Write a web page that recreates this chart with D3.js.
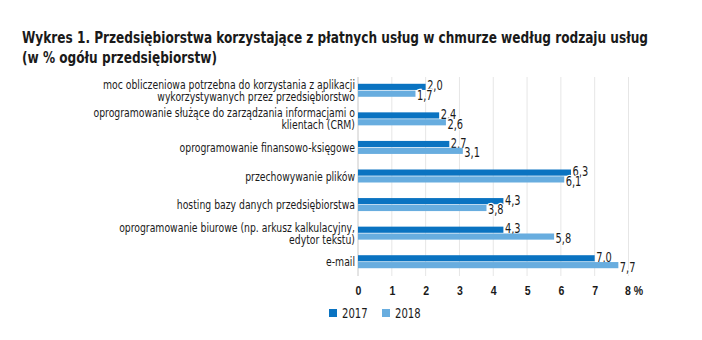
<!DOCTYPE html>
<html><head><meta charset="utf-8">
<script src="https://cdn.jsdelivr.net/npm/d3@7"></script>
<style>
body{margin:0;background:#fff;}
svg{display:block;font-family:"Liberation Sans Narrow","DejaVu Sans Condensed","DejaVu Sans",sans-serif;}
</style></head><body>
<svg id="c" width="702" height="340"></svg>
<script>
const categories = [
  ["moc obliczeniowa potrzebna do korzystania z aplikacji","wykorzystywanych przez przedsiębiorstwo"],
  ["oprogramowanie służące do zarządzania informacjami o","klientach (CRM)"],
  ["oprogramowanie finansowo-księgowe"],
  ["przechowywanie plików"],
  ["hosting bazy danych przedsiębiorstwa"],
  ["oprogramowanie biurowe (np. arkusz kalkulacyjny,","edytor tekstu)"],
  ["e-mail"]
];
const values2017 = [2.0, 2.4, 2.7, 6.3, 4.3, 4.3, 7.0];
const values2018 = [1.7, 2.6, 3.1, 6.1, 3.8, 5.8, 7.7];
const seriesNames = ["2017","2018"];
const colors = ["#0a73c1","#68addf"];
const xTicks = [0,1,2,3,4,5,6,7,8];
const title = ["Wykres 1. Przedsiębiorstwa korzystające z płatnych usług w chmurze według rodzaju usług","(w % ogółu przedsiębiorstw)"];

const svg = d3.select("#c");
const fmt = v => d3.format(".1f")(v).replace(".", ",");
function squeeze(sel, f){
  sel.each(function(){
    const L = this.getComputedTextLength();
    d3.select(this).attr("textLength", L*f).attr("lengthAdjust","spacingAndGlyphs");
  });
}

// title
const tt = svg.append("text").attr("font-weight","bold").attr("font-size",16).attr("fill","#1a1a1a");
const tsp = tt.selectAll("tspan").data(title).join("tspan").attr("x",22).attr("y",(d,i)=>43+i*19.5).text(d=>d);
const tf = 626 / tsp.nodes()[0].getComputedTextLength();
squeeze(tsp, tf);

const x = d3.scaleLinear().domain([0,8]).range([358,628.5]);
const y = d3.scaleBand().domain(d3.range(categories.length)).range([76,276]);
const sub = d3.scaleBand().domain([0,1]).range([-6.5,6.5]).paddingInner(0.1);

// gridlines
svg.append("g").selectAll("line").data(xTicks).join("line")
  .attr("x1",d=>x(d)).attr("x2",d=>x(d)).attr("y1",77).attr("y2",276)
  .attr("stroke",d=>d===0?"#c8c8c8":"#e6e6e6").attr("stroke-width",1);

// axis labels
const xAxis = d3.axisBottom(x).tickValues(xTicks).tickSize(0).tickFormat(d=>d===8?"8 %":d);
const gx = svg.append("g").attr("transform","translate(0,282)").call(xAxis);
gx.select(".domain").remove();
gx.selectAll("text").attr("font-family",null)
  .attr("font-size",13.5).attr("font-weight","bold").attr("fill","#1a1a1a")
  .attr("dx",d=>d===8?"5":"0");
squeeze(gx.selectAll("text"), 0.78);

// category labels
const catG = svg.append("g").selectAll("text").data(categories).join("text")
  .attr("text-anchor","end").attr("font-size",13).attr("fill","#1a1a1a");
catG.each(function(lines,i){
  const t = d3.select(this);
  const c = y(i)+y.bandwidth()/2;
  const lh = 12;
  const y0 = c - (lines.length-1)*lh/2 + 4.5;
  lines.forEach((l,j)=>t.append("tspan").attr("x",355).attr("y",y0+j*lh).text(l));
});
const cf = 252 / catG.select("tspan").node().getComputedTextLength();
squeeze(catG.selectAll("tspan"), cf);

// bars
const series = [values2017, values2018];
series.forEach((vals,s)=>{
  const g = svg.append("g");
  g.selectAll("rect").data(vals).join("rect")
    .attr("x",x(0)).attr("y",(d,i)=>y(i)+y.bandwidth()/2+sub(s))
    .attr("width",d=>x(d)-x(0)).attr("height",sub.bandwidth()).attr("fill",colors[s]);
  const lt = g.selectAll("text").data(vals).join("text")
    .attr("x",d=>x(d)+1.5).attr("y",(d,i)=>y(i)+y.bandwidth()/2+sub(s)+sub.bandwidth()/2+4.5+(s?2:-1))
    .attr("font-size",14).attr("fill","#1a1a1a")
    .attr("stroke","#fff").attr("stroke-width",2.5).attr("paint-order","stroke")
    .text(d=>fmt(d));
  squeeze(lt, 0.78);
});

// legend
const leg = svg.append("g").attr("transform","translate(329,309)");
seriesNames.forEach((n,i)=>{
  const gg = leg.append("g").attr("transform",`translate(${i*53},0)`);
  gg.append("rect").attr("width",8).attr("height",8).attr("fill",colors[i]);
  const lt = gg.append("text").attr("x",13).attr("y",9).attr("font-size",14).attr("fill","#1a1a1a").text(n);
  squeeze(lt, 0.8);
});
</script></body></html>
